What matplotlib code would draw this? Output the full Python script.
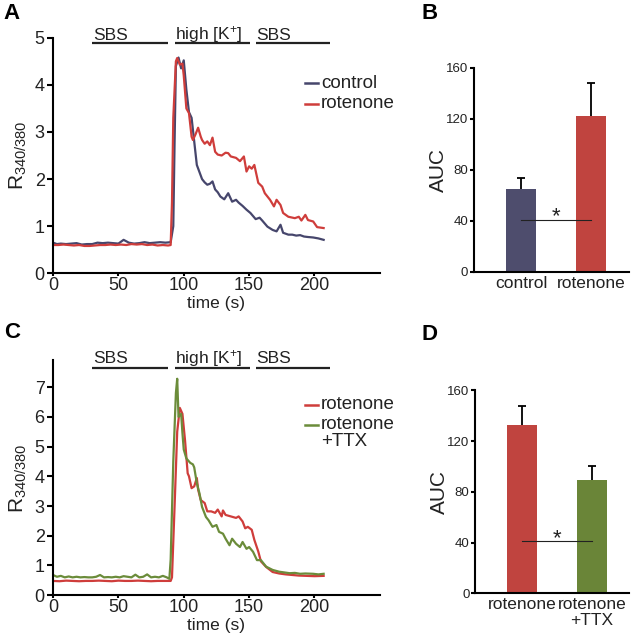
import numpy as np
import matplotlib
matplotlib.use("Agg")
import matplotlib.pyplot as plt

plt.rcParams['font.family'] = ['Liberation Sans', 'DejaVu Sans']
plt.rcParams['mathtext.fontset'] = 'custom'
plt.rcParams['mathtext.rm'] = 'Liberation Sans'
plt.rcParams['mathtext.it'] = 'Liberation Sans'

# ---- panel A traces (time in s, ratio 340/380)
tA_ctrl = [0, 3, 6, 10, 14, 18, 22, 26, 30, 34, 38, 42, 46, 50, 54, 58, 62, 66, 70, 74, 78, 82, 86, 90,
           92, 93, 94, 96, 98, 100, 102, 104, 106, 108, 110, 112, 114, 116, 118, 120, 122, 124, 126, 128,
           131, 134, 137, 140, 142, 145, 148, 151, 155, 158, 160, 164, 168, 171, 174, 176, 180, 183, 186,
           189, 192, 195, 199, 203, 207]
yA_ctrl = [0.65, 0.62, 0.63, 0.62, 0.63, 0.64, 0.61, 0.62, 0.62, 0.65, 0.64, 0.65, 0.64, 0.63, 0.71, 0.65,
           0.63, 0.64, 0.66, 0.64, 0.65, 0.66, 0.65, 0.66,
           1.0, 2.8, 4.4, 4.58, 4.35, 4.52, 3.9, 3.42, 3.3, 2.8, 2.3, 2.15, 2.0, 1.93, 1.88, 1.9, 1.95, 1.78,
           1.72, 1.63, 1.57, 1.7, 1.52, 1.56, 1.5, 1.43, 1.35, 1.28, 1.15, 1.18, 1.12, 0.99, 0.92, 0.89,
           1.03, 0.86, 0.82, 0.82, 0.8, 0.81, 0.78, 0.77, 0.76, 0.74, 0.71]

tA_rot = [0, 4, 8, 12, 16, 20, 24, 28, 32, 36, 40, 44, 48, 52, 56, 60, 64, 68, 72, 76, 80, 84, 88, 90,
          91, 92, 94, 95, 97, 99, 100, 102, 104, 106, 107, 109, 111, 113, 114, 116, 118, 120, 122, 124,
          126, 129, 132, 134, 136, 140, 143, 146, 148, 150, 152, 154, 157, 160, 162, 166, 169, 171, 174,
          176, 180, 185, 188, 190, 193, 195, 199, 202, 207]
yA_rot = [0.6, 0.6, 0.61, 0.6, 0.59, 0.6, 0.58, 0.58, 0.59, 0.6, 0.6, 0.61, 0.6, 0.61, 0.6, 0.62, 0.61,
          0.62, 0.6, 0.61, 0.59, 0.6, 0.59, 0.6,
          1.5, 3.3, 4.5, 4.57, 4.43, 4.45, 4.2, 3.5, 3.4, 2.9, 2.83, 2.95, 3.09, 2.9, 2.83, 2.75, 2.8,
          2.72, 2.88, 2.58, 2.52, 2.5, 2.56, 2.55, 2.48, 2.45, 2.38, 2.48, 2.16, 2.27, 2.22, 2.3, 1.92,
          1.84, 1.7, 1.56, 1.42, 1.56, 1.45, 1.28, 1.2, 1.17, 1.2, 1.12, 1.24, 1.13, 1.1, 0.98, 0.96]

# ---- panel C traces
tC_rot = [0, 5, 10, 15, 20, 25, 30, 35, 40, 45, 50, 55, 60, 65, 70, 75, 80, 85, 90,
          91, 93, 95, 97, 99, 101, 103, 104, 106, 108, 110, 111, 113, 116, 118, 121, 124, 126, 129, 130,
          132, 136, 140, 142, 145, 147, 149, 152, 154, 157, 159, 163, 168, 173, 178, 183, 188, 194, 200,
          207]
yC_rot = [0.48, 0.47, 0.49, 0.48, 0.47, 0.48, 0.48, 0.49, 0.48, 0.47, 0.49, 0.48, 0.48, 0.49, 0.48,
          0.47, 0.48, 0.48, 0.48,
          0.6, 3.0, 5.5, 6.3, 6.1, 5.2, 4.1, 4.0, 3.6, 3.66, 3.94, 3.55, 3.2, 3.1, 2.82, 2.82, 2.77, 2.88,
          2.65, 2.85, 2.7, 2.65, 2.6, 2.65, 2.48, 2.25, 2.3, 2.2, 1.86, 1.47, 1.14, 0.95, 0.78, 0.73, 0.7,
          0.68, 0.66, 0.65, 0.64, 0.65]

tC_ttx = [0, 3, 6, 9, 12, 15, 18, 21, 24, 27, 30, 33, 36, 39, 42, 45, 48, 51, 54, 57, 60, 63, 66, 69,
          72, 75, 78, 81, 84, 87, 89,
          90, 92, 94, 95, 96, 98, 99, 100, 102, 104, 105, 107, 108, 110, 112, 114, 117, 119, 122, 125,
          127, 130, 132, 135, 137, 140, 143, 145, 148, 150, 153, 156, 159, 163, 168, 173, 181, 185, 189,
          193, 199, 203, 207]
yC_ttx = [0.68, 0.62, 0.65, 0.6, 0.63, 0.6, 0.62, 0.6, 0.61, 0.6, 0.6, 0.62, 0.68, 0.6, 0.61, 0.6,
          0.62, 0.6, 0.64, 0.62, 0.6, 0.69, 0.6, 0.62, 0.7, 0.6, 0.62, 0.6, 0.65, 0.6, 0.55,
          1.2, 4.5, 6.8, 7.28, 6.0, 6.1, 5.45, 4.9, 4.6, 4.5, 4.45, 4.4, 4.3, 3.77, 3.43, 2.97, 2.63,
          2.52, 2.3, 2.36, 2.13, 2.07, 1.9, 1.68, 1.9, 1.73, 1.62, 1.79, 1.56, 1.62, 1.46, 1.18, 1.18,
          0.96, 0.85, 0.79, 0.74, 0.75, 0.72, 0.73, 0.72, 0.7, 0.72]

# ---- protocol bars (start, end, label)
proto_start = [30, 93, 155]
proto_end = [88, 150.5, 212]
proto_labels = ['SBS', 'high [K$^{+}$]', 'SBS']

# ---- AUC bars
b_labels = ['control', 'rotenone']
b_vals = [65, 122]
b_err = [9, 26]
d_labels = ['rotenone', 'rotenone\n+TTX']
d_vals = [133, 89]
d_err = [15, 11]

c_blue = '#46466c'
c_red = '#cf3d3b'
c_green = '#6b8c3a'
bar_blue = '#4e4d6d'
bar_red = '#c0443f'
bar_green = '#6a8538'
ink = '#222222'

fig = plt.figure(figsize=(6.31, 6.4), dpi=100)
axA = fig.add_axes([0.084, 0.573, 0.518, 0.368])
axC = fig.add_axes([0.084, 0.070, 0.518, 0.367])
axB = fig.add_axes([0.751, 0.575, 0.246, 0.319])
axD = fig.add_axes([0.753, 0.073, 0.244, 0.317])


def style(ax, lab=13, tl=4):
    for s in ['top', 'right']:
        ax.spines[s].set_visible(False)
    for s in ['left', 'bottom']:
        ax.spines[s].set_linewidth(1.5)
        ax.spines[s].set_color('black')
    ax.tick_params(direction='out', length=tl, width=1.5, labelsize=lab, labelcolor=ink, pad=2)


def trace_panel(ax, ymax, yticks, line_y, text_y):
    style(ax)
    ax.tick_params(axis='x', length=2, pad=1)
    ax.set_xlim(0, 250)
    ax.set_ylim(0, ymax)
    ax.set_xticks([0, 50, 100, 150, 200])
    ax.set_yticks(yticks)
    ax.set_xlabel('time (s)', fontsize=12.5, color=ink, labelpad=1)
    ax.set_ylabel(r'R$_{340/380}$', fontsize=15, color=ink, labelpad=4)
    for s, e, l in zip(proto_start, proto_end, proto_labels):
        ax.plot([s, e], [line_y, line_y], color=ink, lw=1.6, clip_on=False, solid_capstyle='butt')
        ax.text(s + 0.5, text_y, l, fontsize=12.5, color=ink, ha='left', va='baseline')


# A
trace_panel(axA, 5, [0, 1, 2, 3, 4, 5], 4.89, 4.96)
axA.plot(tA_ctrl, yA_ctrl, color=c_blue, lw=1.6)
axA.plot(tA_rot, yA_rot, color=c_red, lw=1.6)
for yy, lab, col in [(0.806, 'control', c_blue), (0.72, 'rotenone', c_red)]:
    axA.plot([0.77, 0.81], [yy, yy], color=col, lw=1.8, transform=axA.transAxes, clip_on=False)
    axA.text(0.82, yy, lab, fontsize=13.5, color=ink, ha='left', va='center', transform=axA.transAxes)

# C
trace_panel(axC, 7.9, [0, 1, 2, 3, 4, 5, 6, 7], 7.64, 7.81)
axC.plot(tC_rot, yC_rot, color=c_red, lw=1.6)
axC.plot(tC_ttx, yC_ttx, color=c_green, lw=1.6)
for yy, lab, col in [(0.81, 'rotenone', c_red), (0.725, 'rotenone\n+TTX', c_green)]:
    axC.plot([0.77, 0.81], [yy, yy], color=col, lw=1.8, transform=axC.transAxes, clip_on=False)
    axC.text(0.82, yy + 0.037, lab, fontsize=13.5, color=ink, ha='left', va='top',
             transform=axC.transAxes, linespacing=1.0)


def bar_panel(ax, labels, vals, errs, cols, xr):
    style(ax, lab=9.5, tl=3)
    x = np.arange(len(vals))
    ax.bar(x, vals, width=0.43, color=cols, edgecolor='none')
    ax.vlines(x, vals, np.array(vals) + np.array(errs), color='black', lw=1.3)
    ax.hlines(np.array(vals) + np.array(errs), x - 0.055, x + 0.055, color='black', lw=1.3)
    ax.plot([0, 1], [41, 41], color=ink, lw=0.8)
    ax.text(0.5, 39, '*', fontsize=16, ha='center', va='baseline', color=ink)
    ax.set_xlim(*xr)
    ax.set_ylim(0, 160)
    ax.set_yticks([0, 40, 80, 120, 160])
    ax.tick_params(axis='y', pad=1)
    ax.set_xticks(x)
    ax.set_xticklabels(labels, fontsize=12.5, color=ink, linespacing=1.05)
    ax.tick_params(axis='x', length=0, pad=3)
    ax.set_ylabel('AUC', fontsize=15, color=ink, labelpad=-1)


bar_panel(axB, b_labels, b_vals, b_err, [bar_blue, bar_red], (-0.67, 1.54))
bar_panel(axD, d_labels, d_vals, d_err, [bar_red, bar_green], (-0.67, 1.53))

for x, y, l in [(0.006, 0.995, 'A'), (0.668, 0.995, 'B'), (0.006, 0.497, 'C'), (0.668, 0.493, 'D')]:
    fig.text(x, y, l, fontsize=16, fontweight='bold', ha='left', va='top')

fig.savefig('out.png', dpi=100)
